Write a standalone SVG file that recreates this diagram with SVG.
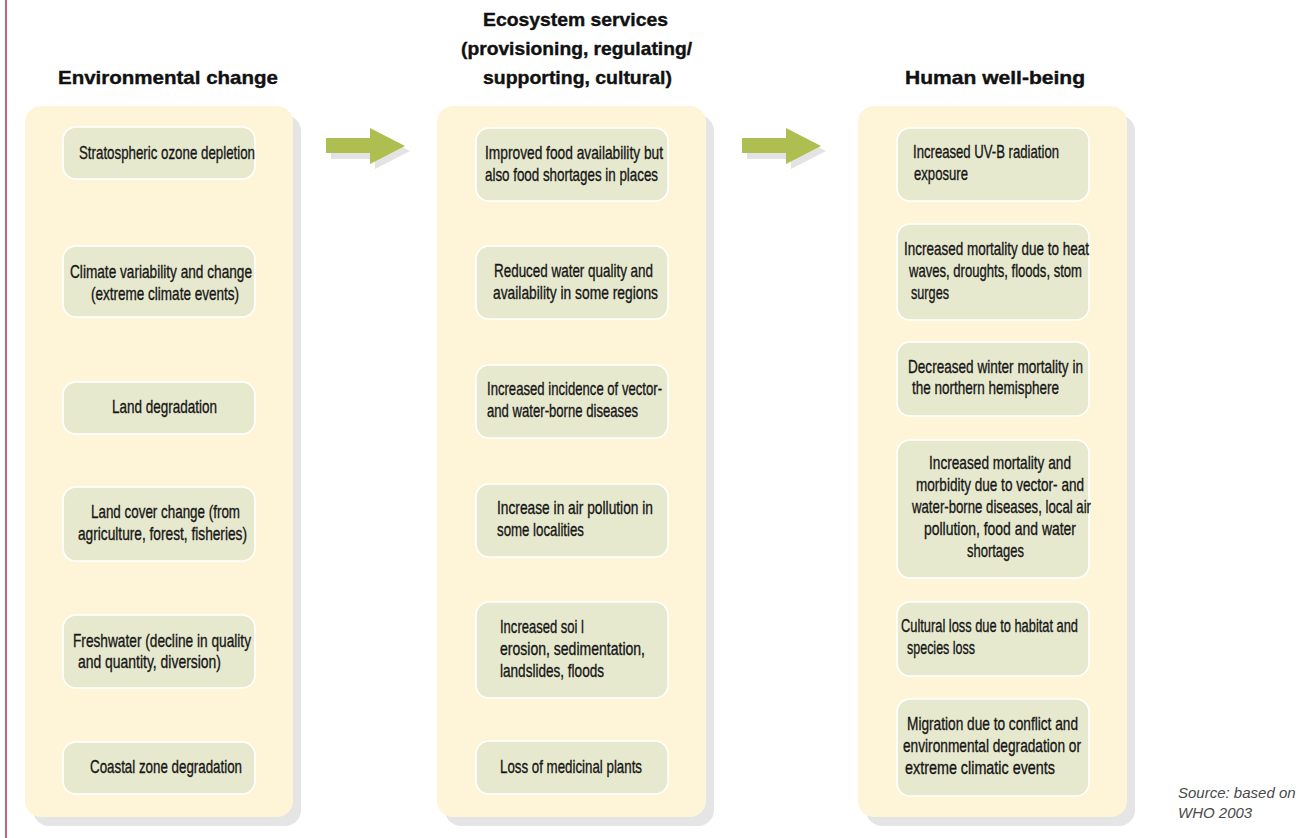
<svg xmlns="http://www.w3.org/2000/svg" width="1308" height="838" viewBox="0 0 1308 838">
<style>
.bg{fill:#ffffff}
.shadow{fill:#e4e5e4}
.panel{fill:#fef5d9}
.box{fill:#e7e9cf;stroke:#ffffff;stroke-width:1.6}
.t{font-family:"Liberation Sans Narrow","Liberation Sans",Arial,sans-serif;font-size:19px;fill:#161616;stroke:#161616;stroke-width:0.35}
.h{font-family:"Liberation Sans",Arial,sans-serif;font-size:19px;font-weight:bold;fill:#111111;stroke:#111111;stroke-width:0.4}
.src{font-family:"Liberation Sans",Arial,sans-serif;font-size:15px;font-style:italic;fill:#4a4a4a}
.arr{fill:#aebe50}
.arrs{fill:#e3e3e3}
</style>
<rect class="bg" x="0" y="0" width="1308" height="838"/>
<line x1="6" y1="0" x2="6" y2="838" stroke="#c9607d" stroke-width="2"/>

<g id="col-environmental-change">
<text class="h" x="58" y="84" textLength="220" lengthAdjust="spacingAndGlyphs">Environmental change</text>
<rect class="shadow" x="33" y="115" width="268" height="711" rx="16"/>
<rect class="panel" x="25" y="106" width="268" height="711" rx="16"/>
</g>
<g id="col-ecosystem-services">
<text class="h" x="483" y="26" textLength="185" lengthAdjust="spacingAndGlyphs">Ecosystem services</text>
<text class="h" x="461" y="55" textLength="231" lengthAdjust="spacingAndGlyphs">(provisioning, regulating/</text>
<text class="h" x="483" y="84" textLength="189" lengthAdjust="spacingAndGlyphs">supporting, cultural)</text>
<rect class="shadow" x="445" y="115" width="269" height="711" rx="16"/>
<rect class="panel" x="437" y="106" width="269" height="711" rx="16"/>
</g>
<g id="col-human-well-being">
<text class="h" x="905" y="84" textLength="180" lengthAdjust="spacingAndGlyphs">Human well-being</text>
<rect class="shadow" x="866" y="115" width="269" height="711" rx="16"/>
<rect class="panel" x="858" y="106" width="269" height="711" rx="16"/>
</g>

<g id="connectors">
<path class="arrs" d="M331 143 H375 V133 L410 151 L375 169 V159 H331 Z"/>
<path class="arr" d="M326 138 H370 V128 L405 146 L370 164 V153 H326 Z"/>
<path class="arrs" d="M747 143 H791 V133 L826 151 L791 169 V159 H747 Z"/>
<path class="arr" d="M742 138 H786 V128 L821 146 L786 164 V153 H742 Z"/>
</g>

<g id="env-1"><rect class="box" x="63" y="127" width="192" height="52" rx="13"/>
<text class="t" x="79" y="158.5" textLength="176" lengthAdjust="spacingAndGlyphs">Stratospheric ozone depletion</text></g>
<g id="env-2"><rect class="box" x="63" y="246" width="192" height="71" rx="13"/>
<text class="t" x="70" y="277.5" textLength="182" lengthAdjust="spacingAndGlyphs">Climate variability and change</text>
<text class="t" x="91" y="299.5" textLength="148" lengthAdjust="spacingAndGlyphs">(extreme climate events)</text></g>
<g id="env-3"><rect class="box" x="63" y="382" width="192" height="52" rx="13"/>
<text class="t" x="112" y="412.5" textLength="105" lengthAdjust="spacingAndGlyphs">Land degradation</text></g>
<g id="env-4"><rect class="box" x="63" y="487" width="192" height="74" rx="13"/>
<text class="t" x="91" y="517.5" textLength="149" lengthAdjust="spacingAndGlyphs">Land cover change (from</text>
<text class="t" x="78" y="539.5" textLength="169" lengthAdjust="spacingAndGlyphs">agriculture, forest, fisheries)</text></g>
<g id="env-5"><rect class="box" x="63" y="615" width="192" height="73" rx="13"/>
<text class="t" x="73" y="646.5" textLength="178" lengthAdjust="spacingAndGlyphs">Freshwater (decline in quality</text>
<text class="t" x="78" y="668" textLength="143" lengthAdjust="spacingAndGlyphs">and quantity, diversion)</text></g>
<g id="env-6"><rect class="box" x="63" y="742" width="192" height="52" rx="13"/>
<text class="t" x="90" y="772.5" textLength="152" lengthAdjust="spacingAndGlyphs">Coastal zone degradation</text></g>

<g id="eco-1"><rect class="box" x="476" y="128" width="192" height="73" rx="13"/>
<text class="t" x="485" y="158.5" textLength="178" lengthAdjust="spacingAndGlyphs">Improved food availability but</text>
<text class="t" x="485" y="180.5" textLength="173" lengthAdjust="spacingAndGlyphs">also food shortages in places</text></g>
<g id="eco-2"><rect class="box" x="476" y="246" width="192" height="73" rx="13"/>
<text class="t" x="494" y="276.5" textLength="159" lengthAdjust="spacingAndGlyphs">Reduced water quality and</text>
<text class="t" x="493" y="298.5" textLength="165" lengthAdjust="spacingAndGlyphs">availability in some regions</text></g>
<g id="eco-3"><rect class="box" x="476" y="365" width="192" height="73" rx="13"/>
<text class="t" x="487" y="394.5" textLength="175" lengthAdjust="spacingAndGlyphs">Increased incidence of vector-</text>
<text class="t" x="487" y="416.5" textLength="151" lengthAdjust="spacingAndGlyphs">and water-borne diseases</text></g>
<g id="eco-4"><rect class="box" x="476" y="484" width="192" height="73" rx="13"/>
<text class="t" x="497" y="513.5" textLength="156" lengthAdjust="spacingAndGlyphs">Increase in air pollution in</text>
<text class="t" x="497" y="535.5" textLength="87" lengthAdjust="spacingAndGlyphs">some localities</text></g>
<g id="eco-5"><rect class="box" x="476" y="602" width="192" height="96" rx="13"/>
<text class="t" x="500" y="632.5" textLength="84" lengthAdjust="spacingAndGlyphs">Increased soi l</text>
<text class="t" x="500" y="654.5" textLength="145" lengthAdjust="spacingAndGlyphs">erosion, sedimentation,</text>
<text class="t" x="500" y="676.5" textLength="104" lengthAdjust="spacingAndGlyphs">landslides, floods</text></g>
<g id="eco-6"><rect class="box" x="476" y="741" width="192" height="53" rx="13"/>
<text class="t" x="500" y="772.5" textLength="142" lengthAdjust="spacingAndGlyphs">Loss of medicinal plants</text></g>

<g id="hwb-1"><rect class="box" x="897" y="128" width="192" height="73" rx="13"/>
<text class="t" x="913" y="157.5" textLength="146" lengthAdjust="spacingAndGlyphs">Increased UV-B radiation</text>
<text class="t" x="914" y="179.5" textLength="54" lengthAdjust="spacingAndGlyphs">exposure</text></g>
<g id="hwb-2"><rect class="box" x="897" y="224" width="192" height="96" rx="13"/>
<text class="t" x="904" y="254.5" textLength="185" lengthAdjust="spacingAndGlyphs">Increased mortality due to heat</text>
<text class="t" x="909" y="276.5" textLength="173" lengthAdjust="spacingAndGlyphs">waves, droughts, floods, stom</text>
<text class="t" x="911" y="298.5" textLength="38" lengthAdjust="spacingAndGlyphs">surges</text></g>
<g id="hwb-3"><rect class="box" x="897" y="342" width="192" height="74" rx="13"/>
<text class="t" x="908" y="372.5" textLength="175" lengthAdjust="spacingAndGlyphs">Decreased winter mortality in</text>
<text class="t" x="912" y="394" textLength="147" lengthAdjust="spacingAndGlyphs">the northern hemisphere</text></g>
<g id="hwb-4"><rect class="box" x="897" y="440" width="192" height="138" rx="13"/>
<text class="t" x="929" y="468.5" textLength="142" lengthAdjust="spacingAndGlyphs">Increased mortality and</text>
<text class="t" x="916" y="490.5" textLength="168" lengthAdjust="spacingAndGlyphs">morbidity due to vector- and</text>
<text class="t" x="912" y="512.5" textLength="179" lengthAdjust="spacingAndGlyphs">water-borne diseases, local air</text>
<text class="t" x="924" y="534.5" textLength="152" lengthAdjust="spacingAndGlyphs">pollution, food and water</text>
<text class="t" x="967" y="556.5" textLength="57" lengthAdjust="spacingAndGlyphs">shortages</text></g>
<g id="hwb-5"><rect class="box" x="897" y="602" width="192" height="74" rx="13"/>
<text class="t" x="901" y="631.5" textLength="177" lengthAdjust="spacingAndGlyphs">Cultural loss due to habitat and</text>
<text class="t" x="907" y="653.5" textLength="68" lengthAdjust="spacingAndGlyphs">species loss</text></g>
<g id="hwb-6"><rect class="box" x="897" y="699" width="192" height="97" rx="13"/>
<text class="t" x="907" y="729.5" textLength="171" lengthAdjust="spacingAndGlyphs">Migration due to conflict and</text>
<text class="t" x="903" y="751.5" textLength="178" lengthAdjust="spacingAndGlyphs">environmental degradation or</text>
<text class="t" x="905" y="773.5" textLength="150" lengthAdjust="spacingAndGlyphs">extreme climatic events</text></g>

<g id="source">
<text class="src" x="1178" y="798">Source: based on</text>
<text class="src" x="1178" y="818">WHO 2003</text>
</g>
</svg>
